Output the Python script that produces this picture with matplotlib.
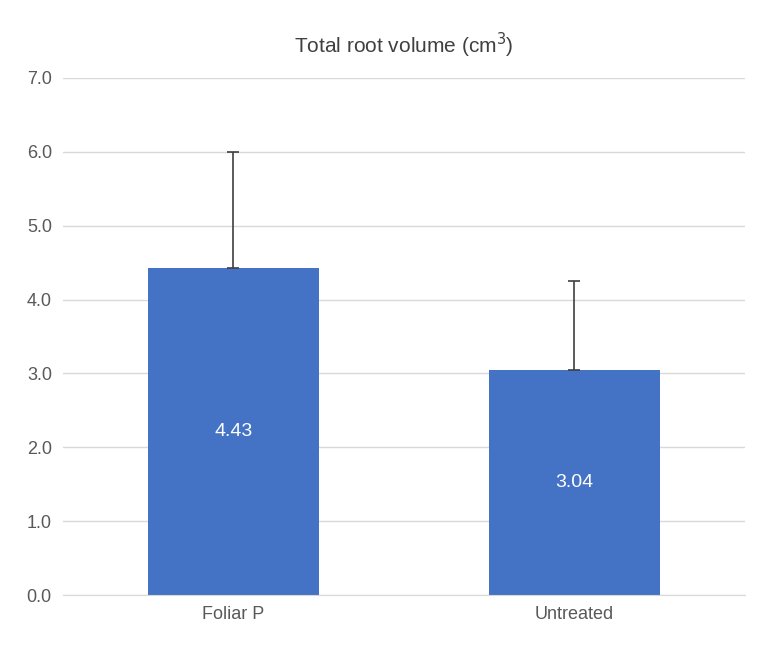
import matplotlib
matplotlib.use("Agg")
import matplotlib.pyplot as plt

# Daten
categories = ["Foliar P", "Untreated"]
values = [4.43, 3.04]
errors = [1.57, 1.21]
value_labels = ["4.43", "3.04"]

plt.rcParams["font.family"] = ["Liberation Sans", "DejaVu Sans"]

fig = plt.figure(figsize=(7.68, 6.55), dpi=100)
ax = fig.add_axes([0.082, 0.0916, 0.888, 0.7894])

x = range(len(categories))
ax.bar(x, values, width=0.5, color="#4472C4", zorder=2)
ax.errorbar(x, values, yerr=[[0, 0], errors], fmt="none", ecolor="#404040",
            elinewidth=1.2, capsize=4, capthick=1.2, zorder=3)

for xi, v, lab in zip(x, values, value_labels):
    ax.text(xi, v / 2, lab, ha="center", va="center", color="white", fontsize=14)

ax.set_xlim(-0.5, 1.5)
ax.set_ylim(0, 7)
ax.set_yticks([i for i in range(8)])
ax.set_yticklabels([f"{i:.1f}" for i in range(8)])
ax.set_xticks(list(x))
ax.set_xticklabels(categories)
ax.yaxis.grid(True, color="#d9d9d9", linewidth=1, zorder=0)
ax.set_axisbelow(True)
for s in ["top", "right", "left"]:
    ax.spines[s].set_visible(False)
ax.spines["bottom"].set_color("#d9d9d9")
ax.tick_params(axis="both", length=0, colors="#595959", labelsize=13, pad=8)

ax.set_title("Total root volume (cm$^3$)", fontsize=15, color="#404040", pad=18)

fig.savefig("out.png", dpi=100)
